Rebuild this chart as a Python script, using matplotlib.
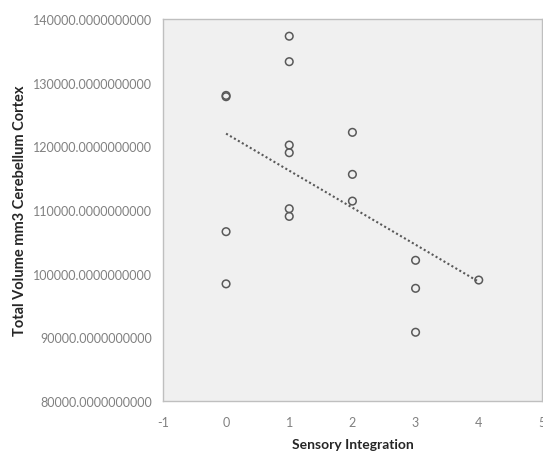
import matplotlib.pyplot as plt
import numpy as np
from matplotlib.ticker import FuncFormatter

sensory = [0, 0, 0, 0, 1, 1, 1, 1, 1, 1, 2, 2, 2, 3, 3, 3, 4]
volume = [128000, 127800, 106600, 98400,
          137300, 133300, 120200, 119000, 110200, 109000,
          122200, 115600, 111400,
          102100, 97700, 90800,
          99000]

plt.rcParams['font.family'] = ['Lato', 'DejaVu Sans']

fig = plt.figure(figsize=(5.43, 4.56), dpi=100)
ax = fig.add_axes([0.300, 0.1184, 0.698, 0.8377])
ax.set_facecolor("#f0f0f0")

ax.scatter(sensory, volume, s=30, facecolors="none", edgecolors="#595959", linewidths=1.1, zorder=3)

slope, intercept = np.polyfit(sensory, volume, 1)
xs = np.array([min(sensory), max(sensory)])
ax.plot(xs, slope * xs + intercept, linestyle=(0, (1, 1.2)), color="#595959", linewidth=1.5, zorder=2)

ax.set_xlim(-1, 5)
ax.set_ylim(80000, 140000)
ax.set_xticks(range(-1, 6))
ax.set_yticks(range(80000, 140001, 10000))
ax.xaxis.set_major_formatter(FuncFormatter(lambda v, p: f"{v:.0f}"))
ax.yaxis.set_major_formatter(FuncFormatter(lambda v, p: f"{v:.10f}"))
ax.tick_params(length=0, labelsize=9, labelcolor="#808080", pad=8)
ax.tick_params(axis="x", pad=11)
for s in ax.spines.values():
    s.set_color("#bfbfbf")
    s.set_linewidth(1)

ax.set_xlabel("Sensory Integration", fontsize=10, fontweight="bold", color="#262626", labelpad=7)
ax.set_ylabel("Total Volume mm3 Cerebellum Cortex", fontsize=10.5, fontweight="bold", color="#262626", labelpad=4)

fig.savefig("out.png", dpi=100)
